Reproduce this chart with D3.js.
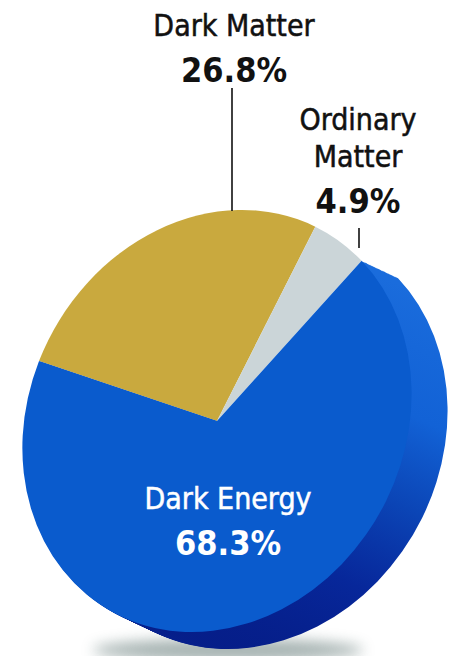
<!DOCTYPE html>
<html>
<head>
<meta charset="utf-8">
<script src="https://cdn.jsdelivr.net/npm/d3@7"></script>
<style>
  html, body { margin: 0; padding: 0; background: #fff; }
  svg { display: block; }
  .name { font-family: "DejaVu Sans Condensed", "DejaVu Sans", sans-serif; font-size: 30px; stroke-width: 0.5px; }
  .pct  { font-family: "DejaVu Sans Condensed", "DejaVu Sans", sans-serif; font-size: 34px; font-weight: bold; }
</style>
</head>
<body>
<svg id="chart"></svg>
<script>
// chart data
var categories = ["Dark Matter", "Ordinary Matter", "Dark Energy"];
var values = [26.8, 4.9, 68.3];
var pctLabels = ["26.8%", "4.9%", "68.3%"];
var nameLines = [["Dark Matter"], ["Ordinary", "Matter"], ["Dark Energy"]];
var colors = ["#c9a93e", "#cbd5d8", "#0a5bcd"];

var width = 463, height = 656;
var cx = 217, cy = 421;     // pie centre (apex of wedges)
var rx = 193, ry = 211;     // face ellipse radii
var skew = 25;              // slant of the tilted face
var depth = [36, 17];       // offset of the side (thickness)

var svg = d3.select("#chart").attr("width", width).attr("height", height);
var defs = svg.append("defs");

defs.append("filter").attr("id", "blur")
  .attr("x", "-50%").attr("y", "-200%").attr("width", "200%").attr("height", "500%")
  .append("feGaussianBlur").attr("stdDeviation", 7);

// gradient lives in the wedge's local units (y = (Y - cy) / ry)
function localY(Y) { return (Y - cy) / ry; }
var grad = defs.append("linearGradient").attr("id", "side")
  .attr("gradientUnits", "userSpaceOnUse")
  .attr("x1", 0).attr("y1", localY(270)).attr("x2", 0).attr("y2", localY(650));
grad.append("stop").attr("offset", 0).attr("stop-color", "#1a6cdc");
grad.append("stop").attr("offset", 0.38).attr("stop-color", "#1262d6");
grad.append("stop").attr("offset", 0.6).attr("stop-color", "#0b45b6");
grad.append("stop").attr("offset", 0.8).attr("stop-color", "#07279a");
grad.append("stop").attr("offset", 1).attr("stop-color", "#051b84");

// shadow under the disc
svg.append("ellipse")
  .attr("cx", 228).attr("cy", 650).attr("rx", 135).attr("ry", 11)
  .attr("fill", "#7f9290").attr("opacity", 0.7)
  .attr("filter", "url(#blur)");

var pie = d3.pie().sort(null)
  .startAngle(-73.5 * Math.PI / 180)
  .endAngle(-73.5 * Math.PI / 180 + 2 * Math.PI);
var arcs = pie(values);
var arc = d3.arc().innerRadius(0).outerRadius(1);

function faceTransform(ox, oy) {
  return "matrix(" + rx + ",0," + (-skew) + "," + ry + "," + (cx + ox) + "," + (cy + oy) + ")";
}

// side of the dark energy slice, stacked copies
var steps = d3.range(1, 0, -1 / 30);
svg.append("g").selectAll("path")
  .data(steps)
  .enter().append("path")
  .attr("d", arc(arcs[2]))
  .attr("transform", function(t) { return faceTransform(depth[0] * t, depth[1] * t); })
  .attr("fill", "url(#side)");

// top faces
svg.append("g").selectAll("path")
  .data(arcs)
  .enter().append("path")
  .attr("d", arc)
  .attr("transform", faceTransform(0, 0))
  .attr("fill", function(d, i) { return colors[i]; });

// labels
var labelPos = [
  { x: 234, y: 36, dy: 0, pctY: 82, line: [232, 88, 211], color: "#111" },
  { x: 358, y: 130, dy: 37, pctY: 213, line: [359, 228, 248], color: "#111" },
  { x: 228, y: 509, dy: 0, pctY: 555, line: null, color: "#fff" }
];

categories.forEach(function(c, i) {
  var p = labelPos[i];
  var g = svg.append("g");
  g.selectAll("text.name")
    .data(nameLines[i])
    .enter().append("text")
    .attr("class", "name")
    .attr("x", p.x).attr("y", function(d, j) { return p.y + j * p.dy; })
    .attr("text-anchor", "middle")
    .attr("fill", p.color)
    .attr("stroke", p.color)
    .text(function(d) { return d; });
  g.append("text")
    .attr("class", "pct")
    .attr("x", p.x).attr("y", p.pctY)
    .attr("text-anchor", "middle")
    .attr("fill", p.color)
    .text(pctLabels[i]);
  if (p.line) {
    g.append("line")
      .attr("x1", p.line[0]).attr("x2", p.line[0])
      .attr("y1", p.line[1]).attr("y2", p.line[2])
      .attr("stroke", "#111").attr("stroke-width", 1.6);
  }
});
</script>
</body>
</html>
